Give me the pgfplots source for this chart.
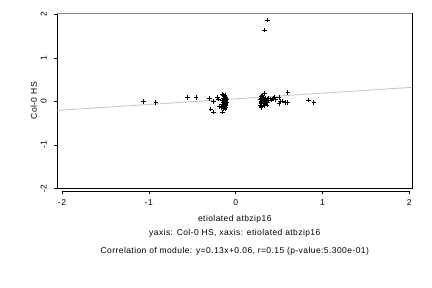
\documentclass[border=0pt]{standalone}
\usepackage{fontspec}
\setmainfont{Liberation Sans}[LetterSpace=5]
\usepackage{pgfplots}
\pgfplotsset{compat=1.18}
\begin{document}
\begin{tikzpicture}
\path[use as bounding box] (-57.3pt,-99.7pt) rectangle (374.7pt,188.3pt);
\begin{axis}[
  scale only axis, width=355pt, height=175pt,
  anchor=south west, at={(0pt,0pt)},
  xmin=-2.054, xmax=2.035, ymin=-2.0, ymax=2.03,
  axis line style={black, line width=0.5pt},
  xtick={-2,-1,0,1,2}, ytick={-2,-1,0,1,2},
  xtick pos=bottom, ytick pos=left,
  tick align=outside, major tick length=3pt,
  tick style={black, line width=0.5pt},
  xtick style={yshift=-3pt},
  xticklabel style={yshift=-5pt},
  yticklabel style={xshift=-10.6pt, rotate=90, anchor=center},
  ticklabel style={font=\fontsize{8.5}{9}\selectfont},
  /pgf/number format/assume math mode=true,
  clip=true,
]
\addplot[color=black!22, line width=0.9pt] coordinates {(-2.054,-0.207) (2.035,0.325)};
\addplot[only marks, mark=+, mark size=2.2pt, mark options={line width=0.7pt, black}] coordinates {
(-1.06,0.00) (-0.92,-0.02) (-0.556,0.09) (-0.453,0.09) (-0.30,0.07) (-0.257,0.00)
(-0.287,-0.18) (-0.253,-0.25) (-0.207,0.10) (-0.196,0.05) (-0.19,-0.12) (-0.17,-0.14) (-0.153,-0.25)
(-0.15,0.17) (-0.14,0.14) (-0.13,0.12) (-0.12,0.10) (-0.14,0.08) (-0.11,0.08) (-0.13,0.06)
(-0.12,0.04) (-0.15,0.03) (-0.11,0.02) (-0.13,0.00) (-0.12,-0.02) (-0.14,-0.03) (-0.11,-0.05)
(-0.13,-0.06) (-0.12,-0.08) (-0.14,-0.10) (-0.11,-0.10) (-0.13,-0.13) (-0.12,-0.15) (-0.14,-0.17)
(-0.12,-0.18) (-0.11,-0.13) (-0.15,-0.07) (-0.10,0.05) (-0.10,-0.02) (-0.12,0.15) (-0.13,0.02)
(0.369,1.87) (0.334,1.64)
(0.334,0.18) (0.30,0.12) (0.32,0.10) (0.29,0.08) (0.34,0.07) (0.31,0.05) (0.28,0.04) (0.33,0.03)
(0.36,0.05) (0.30,0.01) (0.35,0.00) (0.29,-0.01) (0.32,-0.03) (0.37,-0.02) (0.30,-0.05) (0.34,-0.06)
(0.285,-0.10) (0.295,-0.14) (0.30,-0.12) (0.36,-0.08) (0.38,0.08) (0.40,0.06) (0.42,0.05) (0.44,0.07)
(0.45,0.09) (0.46,0.04) (0.38,0.02) (0.41,0.03) (0.50,0.09) (0.51,0.01) (0.54,0.01) (0.50,-0.05)
(0.57,-0.02) (0.60,-0.02) (0.60,0.21) (0.84,0.03) (0.90,-0.02) (0.31,0.14) (0.33,-0.09)
};
\end{axis}
\draw[black!45, line width=0.8pt] (0pt,175pt) -- (355pt,175pt);
\draw[black, line width=0.5pt] (4.7pt,-3pt) -- (352pt,-3pt);
\node[font=\fontsize{8.5}{9}\selectfont, rotate=90, anchor=center, inner sep=0pt] at (-23.5pt,87.5pt) {Col-0 HS};
\node[font=\fontsize{8.5}{9}\selectfont, anchor=center, inner sep=0pt] at (177.5pt,-31pt) {etiolated atbzip16};
\node[font=\fontsize{8.5}{9}\selectfont, anchor=center, inner sep=0pt] at (177.5pt,-45.3pt) {yaxis: Col-0 HS, xaxis: etiolated atbzip16};
\node[font=\fontsize{8.5}{9}\selectfont, anchor=center, inner sep=0pt] at (177.5pt,-63pt) {Correlation of module: y=0.13x+0.06, r=0.15 (p-value:5.300e-01)};
\end{tikzpicture}
\end{document}
